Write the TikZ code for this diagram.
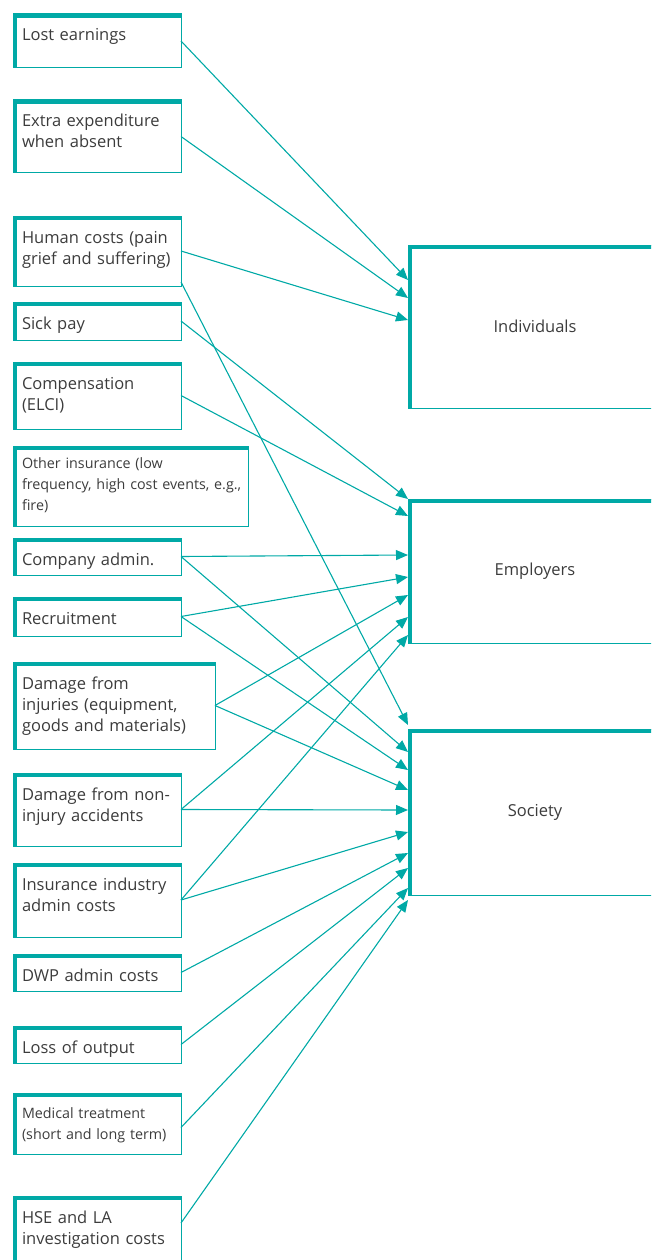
\documentclass[tikz,border=0pt]{standalone}
\usepackage{fontspec}
\setmainfont{Open Sans}
\usetikzlibrary{positioning, arrows.meta}
\definecolor{hseteal}{RGB}{0,169,166}
\definecolor{hsetext}{RGB}{60,60,60}
\tikzstyle{thickedge}=[path picture={\draw[hseteal, line width=8pt]
(path picture bounding box.south west) -- (path picture bounding box.north west)
-- (path picture bounding box.north east);}]
\tikzstyle{costbox}=[rectangle, thickedge, draw=hseteal, line width=1pt,
anchor=north west, inner xsep=9pt, inner ysep=0pt, outer sep=0pt,
text width=150pt, align=left, text height=27pt, text=hsetext,
font=\fontsize{16.5}{21}\selectfont]
\tikzstyle{smallbox}=[costbox, text height=22pt, font=\fontsize{14.3}{21}\selectfont]
\tikzstyle{groupbox}=[rectangle, thickedge, draw=hseteal, line width=1pt,
anchor=north west, inner sep=0pt, outer sep=0pt, minimum width=254pt,
text=hsetext, font=\fontsize{16.5}{21}\selectfont]
\tikzstyle{costarrow}=[-{Triangle[length=12pt,width=10pt]}, hseteal,
line width=1.1pt]

\begin{document}
\begin{tikzpicture}[x=1pt, y=-1pt]
    \path[use as bounding box] (0,0) rectangle (651,1260);
    \clip (0,0) rectangle (651,1260);

    % cost items
    \node[costbox, text depth=27pt] (lost) at (13,14) {Lost earnings};
    \node[costbox, text depth=46pt, below=32pt of lost.south west, anchor=north west] (extra) {Extra expenditure\\when absent};
    \node[costbox, text depth=43pt, below=43pt of extra.south west, anchor=north west] (human) {Human costs (pain\\grief and suffering)};
    \node[costbox, text depth=11pt, below=16pt of human.south west, anchor=north west] (sick) {Sick pay};
    \node[costbox, text depth=40pt, below=22pt of sick.south west, anchor=north west] (comp) {Compensation\\(ELCI)};
    \node[smallbox, text depth=58pt, text width=217pt, below=17pt of comp.south west, anchor=north west] (other) {Other insurance (low\\\mbox{frequency, high cost events, e.g.,}\\fire)};
    \node[costbox, text depth=10pt, below=12pt of other.south west, anchor=north west] (admin) {Company admin.};
    \node[costbox, text depth=12pt, below=22pt of admin.south west, anchor=north west] (recruit) {Recruitment};
    \node[costbox, text depth=60pt, text width=184pt, below=26pt of recruit.south west, anchor=north west] (injury) {Damage from\\injuries (equipment,\\goods and materials)};
    \node[costbox, text depth=46pt, below=24pt of injury.south west, anchor=north west] (noninj) {Damage from non-\\injury accidents};
    \node[costbox, text depth=47pt, below=17pt of noninj.south west, anchor=north west] (insind) {Insurance industry\\admin costs};
    \node[costbox, text depth=10pt, below=17pt of insind.south west, anchor=north west] (dwp) {DWP admin costs};
    \node[costbox, text depth=10pt, below=35pt of dwp.south west, anchor=north west] (output) {Loss of output};
    \node[smallbox, text depth=36pt, text height=25pt, below=30pt of output.south west, anchor=north west] (medical) {Medical treatment\\(short and long term)};
    \node[costbox, text depth=52pt, below=42pt of medical.south west, anchor=north west] (hse) {HSE and LA\\investigation costs};

    % who bears the costs
    \node[groupbox, minimum height=163pt] (ind) at (408,245) {Individuals};
    \node[groupbox, minimum height=144pt] (emp) at (408,499) {Employers};
    \node[groupbox, minimum height=166pt] (soc) at (408,729) {Society};

    \path[costarrow]
    (lost.east) edge ([yshift=-35pt]ind.north west)
    (extra.east) edge ([yshift=-53pt]ind.north west)
    (human.east) edge ([yshift=-75pt]ind.north west)
    ([yshift=4pt]human.south east) edge ([yshift=4pt]soc.north west)
    (sick.east) edge (emp.north west)
    (comp.east) edge ([yshift=-17pt]emp.north west)
    (admin.east) edge ([yshift=-56pt]emp.north west)
    (admin.east) edge ([yshift=-23pt]soc.north west)
    (recruit.east) edge ([yshift=-78pt]emp.north west)
    (recruit.east) edge ([yshift=-41pt]soc.north west)
    (injury.east) edge ([yshift=-96pt]emp.north west)
    (injury.east) edge ([yshift=-61pt]soc.north west)
    (noninj.east) edge ([yshift=-118pt]emp.north west)
    (noninj.east) edge ([yshift=-81pt]soc.north west)
    (insind.east) edge ([yshift=-136pt]emp.north west)
    (insind.east) edge ([yshift=-103pt]soc.north west)
    (dwp.east) edge ([yshift=-124pt]soc.north west)
    (output.east) edge ([yshift=-139pt]soc.north west)
    ([yshift=-4pt]medical.east) edge ([yshift=-159pt]soc.north west)
    ([yshift=-27pt]hse.north east) edge ([yshift=-171pt]soc.north west);
\end{tikzpicture}
\end{document}
